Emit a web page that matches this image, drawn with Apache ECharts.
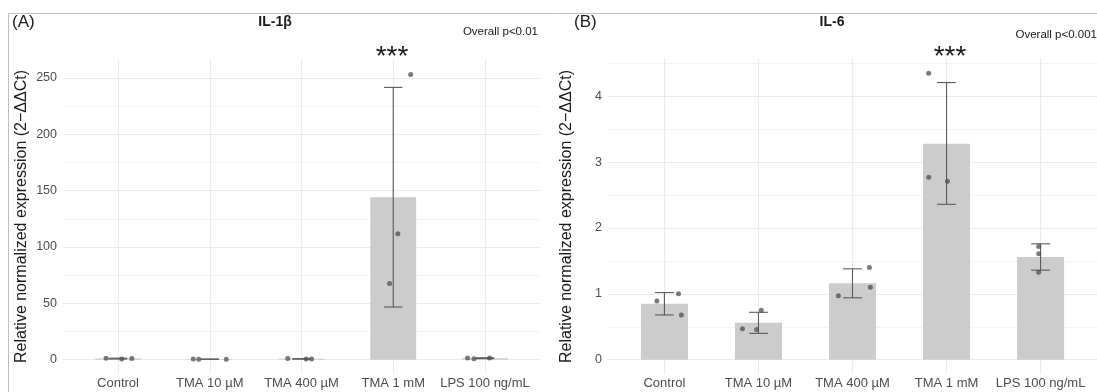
<!DOCTYPE html>
<html><head><meta charset="utf-8">
<script src="https://cdn.jsdelivr.net/npm/echarts@6/dist/echarts.min.js"></script>
<style>html,body{margin:0;padding:0;background:#fff}#c{width:1097px;height:392px}</style>
</head><body><div id="c"></div>
<script>
const categories = ['Control', 'TMA 10 µM', 'TMA 400 µM', 'TMA 1 mM', 'LPS 100 ng/mL'];

// Panel A: IL-1β
const il1bMean = [1.0, 0.45, 0.73, 144.1, 1.33];
const il1bErrLow = [0.64, 0.35, 0.53, 46.7, 0.95];
const il1bErrHigh = [1.36, 0.55, 0.93, 241.5, 1.71];
const il1bPoints = [[1.3, 0.6, 1.1], [0.55, 0.35, 0.45], [0.95, 0.55, 0.7], [67.5, 111.7, 253], [1.6, 0.9, 1.5]];
const il1bJitter = [[-0.13, 0.04, 0.15], [-0.18, -0.12, 0.18], [-0.15, 0.05, 0.11], [-0.04, 0.05, 0.19], [-0.19, -0.12, 0.05]];
const il1bTicks = [0, 50, 100, 150, 200, 250];
const il1bMinor = [25, 75, 125, 175, 225];

// Panel B: IL-6
const il6Mean = [0.85, 0.56, 1.16, 3.28, 1.56];
const il6ErrLow = [0.68, 0.40, 0.94, 2.36, 1.36];
const il6ErrHigh = [1.02, 0.72, 1.38, 4.21, 1.76];
const il6Points = [[0.89, 1.0, 0.68], [0.47, 0.46, 0.75], [0.97, 1.40, 1.10], [4.35, 2.77, 2.71], [1.72, 1.61, 1.33]];
const il6Jitter = [[-0.08, 0.15, 0.18], [-0.17, -0.02, 0.03], [-0.15, 0.18, 0.19], [-0.19, -0.19, 0.01], [-0.02, -0.02, -0.02]];
const il6Ticks = [0, 1, 2, 3, 4];
const il6Minor = [0.5, 1.5, 2.5, 3.5, 4.5];

const yTitle = 'Relative normalized expression (2\u2212\u0394\u0394Ct)';
const FONT = '"Liberation Sans", Arial, sans-serif';

const chart = echarts.init(document.getElementById('c'), null, {renderer: 'canvas'});

function xAxisCfg(gi) {
  return {
    type: 'value', gridIndex: gi, min: -0.6, max: 4.6,
    axisLine: {show: false}, axisTick: {show: false}, splitLine: {show: false},
    axisLabel: {
      showMinLabel: false, showMaxLabel: false, margin: 3,
      fontFamily: FONT, fontSize: 13, color: '#4d4d4d',
      formatter: v => (Number.isInteger(v) && categories[v] !== undefined) ? categories[v] : ''
    }
  };
}
function yAxisCfg(gi, min, max) {
  return {
    type: 'value', gridIndex: gi, min: min, max: max,
    axisLine: {show: false}, axisTick: {show: false}, splitLine: {show: false},
    axisLabel: {showMinLabel: false, showMaxLabel: false, margin: 6, fontFamily: FONT, fontSize: 12.5, color: '#4d4d4d'},
    name: yTitle, nameLocation: 'middle', nameGap: 33, nameRotate: 90,
    nameTextStyle: {fontFamily: FONT, fontSize: 16, color: '#1a1a1a'}
  };
}

function gridSeries(gi, majors, minors) {
  const data = [];
  minors.forEach(v => data.push({yAxis: v, lineStyle: {color: '#f4f4f4', width: 1}}));
  majors.forEach(v => data.push({yAxis: v, lineStyle: {color: '#ebebeb', width: 1}}));
  categories.forEach((c, i) => data.push({xAxis: i, lineStyle: {color: '#ebebeb', width: 1}}));
  return {
    type: 'line', xAxisIndex: gi, yAxisIndex: gi, data: [], silent: true,
    markLine: {z: 1, silent: true, symbol: ['none', 'none'], label: {show: false}, animation: false,
      lineStyle: {type: 'solid'}, data: data}
  };
}

function barSeries(gi, means) {
  return {
    type: 'custom', xAxisIndex: gi, yAxisIndex: gi, z: 2, silent: true,
    data: means.map((m, i) => [i, m]),
    renderItem: (params, api) => {
      const x = api.value(0), y = api.value(1);
      const p0 = api.coord([x - 0.25, 0]);
      const p1 = api.coord([x + 0.25, y]);
      return {type: 'rect', shape: {x: p0[0], y: p1[1], width: p1[0] - p0[0], height: p0[1] - p1[1]},
        style: {fill: '#cccccc'}};
    }
  };
}

function errSeries(gi, lo, hi) {
  return {
    type: 'custom', xAxisIndex: gi, yAxisIndex: gi, z: 3, silent: true,
    data: lo.map((l, i) => [i, l, hi[i]]),
    renderItem: (params, api) => {
      const x = api.value(0);
      const a = api.coord([x, api.value(1)]);
      const b = api.coord([x, api.value(2)]);
      const la = api.coord([x - 0.1, api.value(1)]);
      const ra = api.coord([x + 0.1, api.value(1)]);
      const lb = api.coord([x - 0.1, api.value(2)]);
      const rb = api.coord([x + 0.1, api.value(2)]);
      const st = {stroke: '#595959', lineWidth: 1.1};
      return {type: 'group', children: [
        {type: 'line', shape: {x1: a[0], y1: a[1], x2: b[0], y2: b[1]}, style: st},
        {type: 'line', shape: {x1: la[0], y1: la[1], x2: ra[0], y2: ra[1]}, style: st},
        {type: 'line', shape: {x1: lb[0], y1: lb[1], x2: rb[0], y2: rb[1]}, style: st}
      ]};
    }
  };
}

function pointSeries(gi, pts, jit) {
  const data = [];
  pts.forEach((arr, i) => arr.forEach((v, k) => data.push([i + jit[i][k], v])));
  return {
    type: 'scatter', xAxisIndex: gi, yAxisIndex: gi, z: 4, silent: true,
    symbolSize: 5, itemStyle: {color: '#4d4d4d', opacity: 0.75}, data: data
  };
}

const txt = (x, y, s, size, opts) => Object.assign({
  type: 'text', x: x, y: y,
  style: Object.assign({text: s, fontFamily: FONT, fontSize: size, fill: '#1a1a1a', textVerticalAlign: 'middle'}, opts || {})
});

chart.setOption({
  backgroundColor: '#ffffff',
  animation: false,
  grid: [
    {left: 63, right: 557, top: 59, bottom: 18, containLabel: false},
    {left: 608, right: -4, top: 59, bottom: 18, containLabel: false}
  ],
  xAxis: [xAxisCfg(0), xAxisCfg(1)],
  yAxis: [yAxisCfg(0, -12.7, 266.7), yAxisCfg(1, -0.2175, 4.5675)],
  series: [
    gridSeries(0, il1bTicks, il1bMinor),
    barSeries(0, il1bMean),
    errSeries(0, il1bErrLow, il1bErrHigh),
    pointSeries(0, il1bPoints, il1bJitter),
    gridSeries(1, il6Ticks, il6Minor),
    barSeries(1, il6Mean),
    errSeries(1, il6ErrLow, il6ErrHigh),
    pointSeries(1, il6Points, il6Jitter)
  ],
  graphic: [
    {type: 'polyline', shape: {points: [[8.5, 392], [8.5, 13.5], [1097, 13.5]]}, style: {stroke: '#bfbfbf', lineWidth: 1, fill: null}, silent: true},
    txt(12, 22, '(A)', 17),
    txt(275, 22, 'IL-1\u03b2', 14, {fontWeight: 'bold', textAlign: 'center'}),
    txt(538, 32, 'Overall p<0.01', 11.5, {textAlign: 'right'}),
    txt(392, 57, '***', 28, {textAlign: 'center'}),
    txt(574, 22, '(B)', 17),
    txt(832, 22, 'IL-6', 14, {fontWeight: 'bold', textAlign: 'center'}),
    txt(1097, 35, 'Overall p<0.001', 11.5, {textAlign: 'right'}),
    txt(950, 57, '***', 28, {textAlign: 'center'})
  ]
});
</script></body></html>
